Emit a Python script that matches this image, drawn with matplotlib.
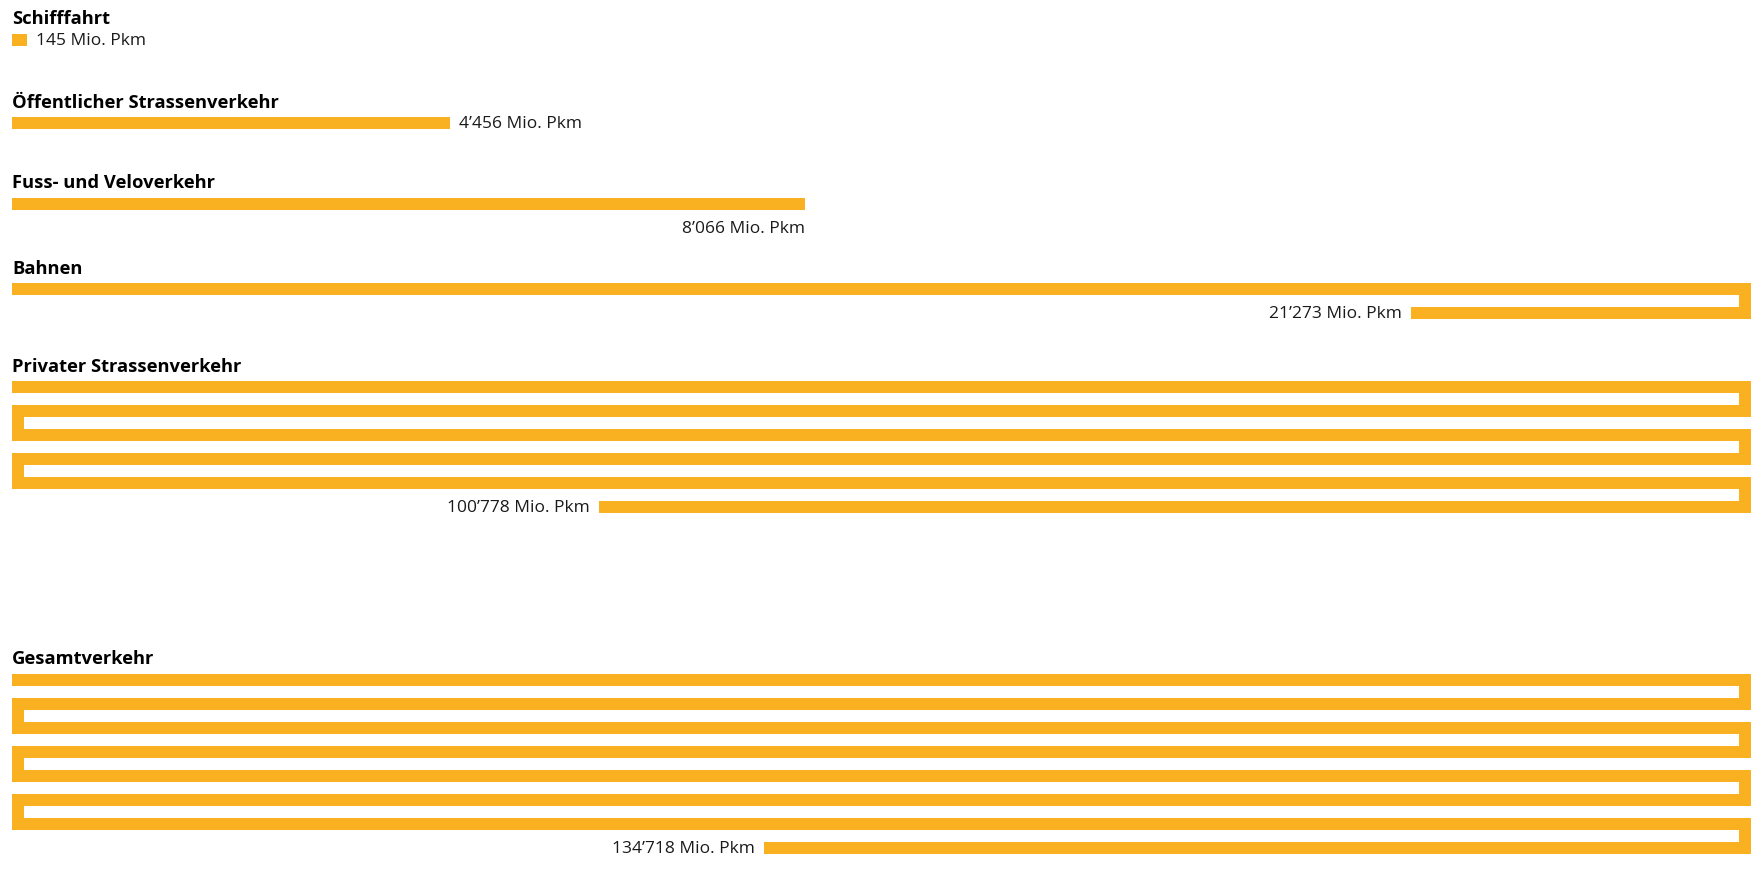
import matplotlib

matplotlib.use("Agg")
import matplotlib.pyplot as plt

# Personenverkehr nach Verkehrsträger, Mio. Personenkilometer
categories = ["Schifffahrt", "Öffentlicher Strassenverkehr",
              "Fuss- und Veloverkehr", "Bahnen",
              "Privater Strassenverkehr", "Gesamtverkehr"]
values = [145, 4456, 8066, 21273, 100778, 134718]
value_labels = ["145 Mio. Pkm", "4\u2019456 Mio. Pkm", "8\u2019066 Mio. Pkm",
                "21\u2019273 Mio. Pkm", "100\u2019778 Mio. Pkm",
                "134\u2019718 Mio. Pkm"]

# layout (pixel rows, top of first bar of every block)
block_top = [34, 117, 198, 283, 381, 674]
label_pos = ["right", "right", "below", "left", "left", "left"]

W, H = 1761, 869
K = 10.172            # Mio. Pkm per pixel
X0 = 12.3             # left edge of bars in px
ROW_CAP = 1739 * K    # one full row in Mio. Pkm
BAR_H = 12
PITCH = 24
TURN = BAR_H * K      # a turn uses up one bar-thickness of length
GAP = 9 * K
ORANGE = "#F9B122"
FONT = ["Open Sans", "DejaVu Sans"]
VAL_SIZE = 12.5

fig = plt.figure(figsize=(W / 100, H / 100), dpi=100)
ax = fig.add_axes([0, 0, 1, 1])
ax.set_xlim(-X0 * K, (W - X0) * K)
ax.set_ylim(H, 0)
ax.axis("off")


def snake(value, top):
    """Draw the value as a bar that wraps row by row; return the end state."""
    remaining = value
    row, direction = 0, 1
    while True:
        y = top + row * PITCH
        seg = min(remaining, ROW_CAP)
        left = 0 if direction == 1 else ROW_CAP - seg
        ax.barh(y + BAR_H / 2, seg, left=left, height=BAR_H, color=ORANGE,
                edgecolor="none")
        remaining -= seg
        if remaining <= 0:
            end = left + seg if direction == 1 else left
            return end, y, direction
        # connector square in the gap between rows
        cx = ROW_CAP - TURN if direction == 1 else 0
        ax.bar(cx, BAR_H, bottom=y + BAR_H, width=TURN, align="edge",
               color=ORANGE, edgecolor="none")
        remaining -= TURN
        row += 1
        direction = -direction


for cat, val, lab, top, pos in zip(categories, values, value_labels,
                                   block_top, label_pos):
    ax.text(0, top - 9.5, cat, fontsize=13.2, fontweight="bold",
            color="#000000", family=FONT, va="baseline", ha="left")
    end, y, direction = snake(val, top)
    if pos == "right":
        ax.text(end + GAP, y + BAR_H - 0.6, lab, fontsize=VAL_SIZE,
                color="#1a1a1a", family=FONT, va="baseline", ha="left")
    elif pos == "below":
        ax.text(end, y + PITCH + BAR_H - 0.6, lab, fontsize=VAL_SIZE,
                color="#1a1a1a", family=FONT, va="baseline", ha="right")
    else:
        ax.text(end - GAP, y + BAR_H - 0.6, lab, fontsize=VAL_SIZE,
                color="#1a1a1a", family=FONT, va="baseline", ha="right")

fig.savefig("out.png", dpi=100, facecolor="white")
